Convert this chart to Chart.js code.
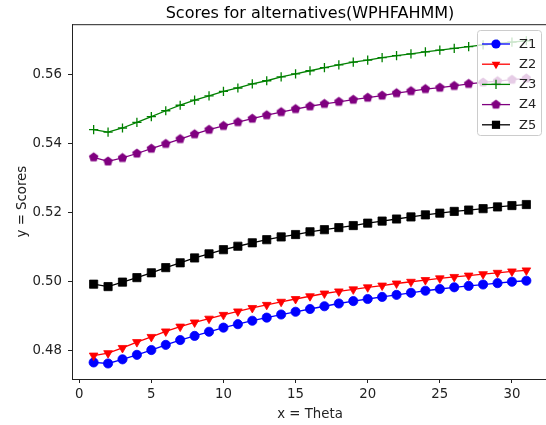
<!DOCTYPE html>
<html>
<head>
<meta charset="utf-8">
<script src="https://cdn.jsdelivr.net/npm/chart.js@4/dist/chart.umd.min.js"></script>
<style>
  html, body { margin: 0; padding: 0; background: #fff; overflow: hidden; }
  #wrap { width: 546px; height: 425px; overflow: hidden; position: relative; }
  #c { position: absolute; left: 0; top: 0; }
</style>
</head>
<body>
<div id="wrap"><canvas id="c" width="600" height="425"></canvas></div>
<script>
// theta values on the x axis
const theta = [1, 2, 3, 4, 5, 6, 7, 8, 9, 10, 11, 12, 13, 14, 15, 16, 17, 18, 19, 20, 21, 22, 23, 24, 25, 26, 27, 28, 29, 30, 31];

// scores
const z1 = [0.4766, 0.4763, 0.4775, 0.4788, 0.4802, 0.4817, 0.4831, 0.4843, 0.4855, 0.4867, 0.4877, 0.4887, 0.4896, 0.4905, 0.4913, 0.4921,
            0.4929, 0.4937, 0.4944, 0.4950, 0.4956, 0.4962, 0.4968, 0.4974, 0.4979, 0.4984, 0.4988, 0.4992, 0.4996, 0.5000, 0.5003];
const z2 = [0.4786, 0.4793, 0.4808, 0.4825, 0.4840, 0.4856, 0.4870, 0.4882, 0.4893, 0.4904, 0.4914, 0.4924, 0.4933, 0.4942, 0.4950, 0.4958,
            0.4966, 0.4972, 0.4978, 0.4984, 0.4989, 0.4995, 0.5000, 0.5005, 0.5010, 0.5014, 0.5018, 0.5022, 0.5026, 0.5030, 0.5033];
const z3 = [0.5441, 0.5434, 0.5446, 0.5462, 0.5479, 0.5496, 0.5512, 0.5527, 0.5539, 0.5552, 0.5562, 0.5574, 0.5583, 0.5594, 0.5603, 0.5612,
            0.5621, 0.5629, 0.5637, 0.5643, 0.5650, 0.5656, 0.5661, 0.5667, 0.5672, 0.5677, 0.5682, 0.5687, 0.5691, 0.5695, 0.5699];
const z4 = [0.5361, 0.5349, 0.5359, 0.5372, 0.5386, 0.5400, 0.5414, 0.5428, 0.5441, 0.5452, 0.5463, 0.5473, 0.5483, 0.5492, 0.5501, 0.5509,
            0.5516, 0.5522, 0.5528, 0.5534, 0.5540, 0.5547, 0.5553, 0.5559, 0.5563, 0.5568, 0.5574, 0.5578, 0.5582, 0.5586, 0.5590];
const z5 = [0.4993, 0.4986, 0.4999, 0.5012, 0.5026, 0.5041, 0.5055, 0.5069, 0.5081, 0.5093, 0.5103, 0.5113, 0.5122, 0.5130, 0.5137, 0.5145,
            0.5151, 0.5157, 0.5163, 0.5170, 0.5176, 0.5182, 0.5188, 0.5194, 0.5199, 0.5204, 0.5208, 0.5212, 0.5217, 0.5221, 0.5224];

const seriesNames = ['Z1', 'Z2', 'Z3', 'Z4', 'Z5'];
const xTicks = [0, 5, 10, 15, 20, 25, 30];
const yTicks = [0.48, 0.50, 0.52, 0.54, 0.56];

const FONT = 'DejaVu Sans';
const INK = '#222';

// pentagon marker (matplotlib 'p') as a small canvas
function pentagon(color, r) {
    const size = Math.ceil(r * 2 + 3);
    const cv = document.createElement('canvas');
    cv.width = size; cv.height = size;
    const g = cv.getContext('2d');
    g.beginPath();
    for (let i = 0; i < 5; i++) {
        const a = -Math.PI / 2 + i * 2 * Math.PI / 5;
        const px = size / 2 + r * Math.cos(a), py = size / 2 + r * Math.sin(a);
        i ? g.lineTo(px, py) : g.moveTo(px, py);
    }
    g.closePath();
    g.fillStyle = color;
    g.fill();
    return cv;
}

const styles = [
    { color: '#0000ff', pointStyle: 'circle', radius: 4.6, rotation: 0 },
    { color: '#ff0000', pointStyle: 'triangle', radius: 5, rotation: 180 },
    { color: '#008000', pointStyle: 'cross', radius: 4.6, rotation: 0 },
    { color: '#800080', pointStyle: pentagon('#800080', 5), radius: 5, rotation: 0 },
    { color: '#000000', pointStyle: 'rect', radius: 5.8, rotation: 0 }
];

const values = [z1, z2, z3, z4, z5];

const datasets = values.map((vals, i) => ({
    label: seriesNames[i],
    data: theta.map((t, j) => ({ x: t, y: vals[j] })),
    borderColor: styles[i].color,
    backgroundColor: styles[i].color,
    borderWidth: 1.3,
    pointStyle: styles[i].pointStyle,
    pointRadius: styles[i].radius,
    pointRotation: styles[i].rotation,
    pointBackgroundColor: styles[i].color,
    pointBorderColor: styles[i].color,
    pointBorderWidth: i === 2 ? 1.3 : 0.8,
    tension: 0,
    order: 5 - i
}));

function drawMarker(ctx, st, x, y) {
    const r = st.radius;
    ctx.fillStyle = st.color;
    ctx.strokeStyle = st.color;
    if (st.pointStyle instanceof HTMLCanvasElement) {
        ctx.drawImage(st.pointStyle, x - st.pointStyle.width / 2, y - st.pointStyle.height / 2);
        return;
    }
    ctx.beginPath();
    if (st.pointStyle === 'circle') {
        ctx.arc(x, y, r, 0, Math.PI * 2);
        ctx.fill();
    } else if (st.pointStyle === 'triangle') {
        for (let k = 0; k < 3; k++) {
            const a = Math.PI / 2 + k * 2 * Math.PI / 3;
            const px = x + r * Math.cos(a), py = y + r * Math.sin(a);
            k ? ctx.lineTo(px, py) : ctx.moveTo(px, py);
        }
        ctx.closePath();
        ctx.fill();
    } else if (st.pointStyle === 'cross') {
        ctx.lineWidth = 1.3;
        ctx.moveTo(x - r, y); ctx.lineTo(x + r, y);
        ctx.moveTo(x, y - r); ctx.lineTo(x, y + r);
        ctx.stroke();
    } else if (st.pointStyle === 'rect') {
        const s = r * Math.SQRT1_2;
        ctx.rect(x - s, y - s, 2 * s, 2 * s);
        ctx.fill();
    }
}

// spines (left, bottom, top) and the in-axes legend
const framePlugin = {
    id: 'frame',
    afterDraw(chart) {
        const { ctx, chartArea: a } = chart;
        ctx.save();
        ctx.strokeStyle = INK;
        ctx.lineWidth = 1;
        ctx.beginPath();
        ctx.moveTo(a.left + 0.5, a.top);
        ctx.lineTo(a.left + 0.5, a.bottom);
        ctx.moveTo(a.left, a.top + 0.5);
        ctx.lineTo(a.right, a.top + 0.5);
        ctx.moveTo(a.left, a.bottom + 0.5);
        ctx.lineTo(a.right, a.bottom + 0.5);
        ctx.stroke();

        // legend box
        const bx = 477.5, by = 30.5, bw = 64, bh = 105, r = 3;
        ctx.beginPath();
        ctx.moveTo(bx + r, by);
        ctx.arcTo(bx + bw, by, bx + bw, by + bh, r);
        ctx.arcTo(bx + bw, by + bh, bx, by + bh, r);
        ctx.arcTo(bx, by + bh, bx, by, r);
        ctx.arcTo(bx, by, bx + bw, by, r);
        ctx.closePath();
        ctx.fillStyle = 'rgba(255,255,255,0.8)';
        ctx.fill();
        ctx.strokeStyle = '#cccccc';
        ctx.stroke();

        chart.data.datasets.forEach((ds, i) => {
            const y = 44 + i * 20.2;
            const st = styles[i];
            ctx.strokeStyle = st.color;
            ctx.lineWidth = 1.3;
            ctx.beginPath();
            ctx.moveTo(482, y);
            ctx.lineTo(510, y);
            ctx.stroke();
            drawMarker(ctx, st, 496, y);
            ctx.fillStyle = INK;
            ctx.font = '13px "' + FONT + '"';
            ctx.textBaseline = 'middle';
            ctx.textAlign = 'left';
            ctx.fillText(ds.label, 519, y + 0.5);
        });
        ctx.restore();
    }
};

new Chart(document.getElementById('c'), {
    type: 'line',
    data: { datasets },
    options: {
        responsive: false,
        animation: false,
        layout: { padding: { left: 0, top: 0, right: 52, bottom: 0 } },
        plugins: {
            legend: { display: false },
            tooltip: { enabled: false },
            title: {
                display: true,
                text: 'Scores for alternatives(WPHFAHMM)',
                fullSize: false,
                color: '#000',
                font: { family: FONT, size: 16, weight: 'normal' },
                padding: { top: 4, bottom: 1 }
            }
        },
        scales: {
            x: {
                type: 'linear',
                min: -0.5,
                max: 32.5,
                afterBuildTicks: s => { s.ticks = xTicks.map(v => ({ value: v })); },
                afterFit: s => { s.height = 46; },
                grid: { drawOnChartArea: false, drawTicks: true, tickLength: 4, tickColor: INK, tickWidth: 1 },
                border: { display: false },
                ticks: {
                    font: { family: FONT, size: 13.3 }, color: INK, padding: 4,
                    maxRotation: 0, autoSkip: false,
                    callback: v => String(v)
                },
                title: {
                    display: true, text: 'x = Theta', color: INK,
                    font: { family: FONT, size: 13.3 },
                    padding: { top: 0, bottom: 2 }
                }
            },
            y: {
                min: 0.4718,
                max: 0.5747,
                afterBuildTicks: s => { s.ticks = yTicks.map(v => ({ value: v })); },
                afterFit: s => { s.width = 72; },
                grid: { drawOnChartArea: false, drawTicks: true, tickLength: 4, tickColor: INK, tickWidth: 1 },
                border: { display: false },
                ticks: {
                    font: { family: FONT, size: 13.3 }, color: INK, padding: 6,
                    callback: v => v.toFixed(2)
                },
                title: {
                    display: true, text: 'y = Scores', color: INK,
                    font: { family: FONT, size: 13.3 },
                    padding: { top: 15, bottom: 0 }
                }
            }
        }
    },
    plugins: [framePlugin]
});
</script>
</body>
</html>
